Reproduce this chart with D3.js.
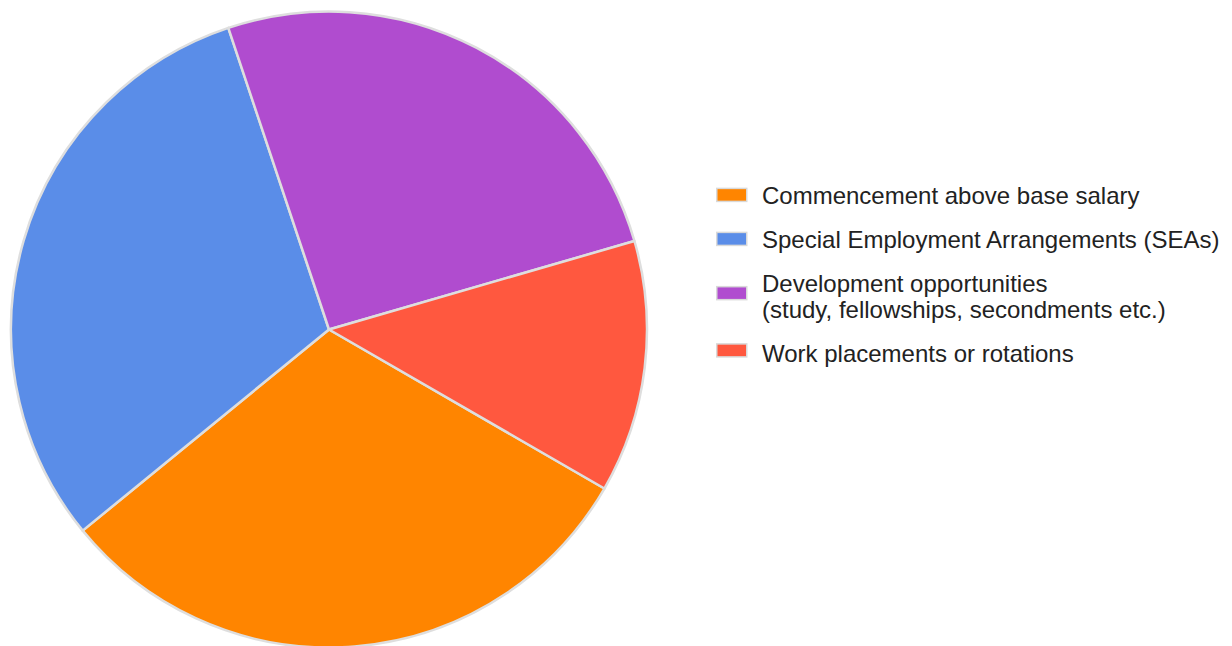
<!DOCTYPE html>
<html>
<head>
<meta charset="utf-8">
<script src="https://cdn.jsdelivr.net/npm/d3@7"></script>
<style>
  html, body { margin: 0; padding: 0; background: #fff; }
  svg { display: block; }
  text { font-family: Arial, "Liberation Sans", sans-serif; fill: #222; }
</style>
</head>
<body>
<svg id="chart" width="1232" height="646"></svg>
<script>
// Categories (legend order) and counts
const categories = [
  "Commencement above base salary",
  "Special Employment Arrangements (SEAs)",
  "Development opportunities\n(study, fellowships, secondments etc.)",
  "Work placements or rotations"
];
const values = [12, 12, 10, 5];
const colors = ["#ff8500", "#5a8de8", "#b04ccf", "#ff583f"];

const svg = d3.select("#chart");

// ---- Pie ----
const cx = 329, cy = 329.5, radius = 318;
const startDeg = 120;

const pie = d3.pie()
  .sort(null)
  .value(d => d.value)
  .startAngle(startDeg * Math.PI / 180)
  .endAngle(startDeg * Math.PI / 180 + 2 * Math.PI);

const arc = d3.arc().innerRadius(0).outerRadius(radius);

const data = categories.map((c, i) => ({ label: c, value: values[i], color: colors[i] }));

svg.append("g")
  .attr("transform", `translate(${cx},${cy})`)
  .selectAll("path")
  .data(pie(data))
  .join("path")
  .attr("d", arc)
  .attr("fill", d => d.data.color)
  .attr("stroke", "#dedede")
  .attr("stroke-width", 2.5)
  .attr("stroke-linejoin", "round");

// ---- Legend ----
const legendX = 716, textX = 762;
const fontSize = 24, lineH = 26.5, entryGap = 44;
let baseline = 203.5;

const legend = svg.append("g");
data.forEach((d, i) => {
  const lines = d.label.split("\n");
  const first = baseline;
  const last = baseline + (lines.length - 1) * lineH;
  const capTop = first - fontSize * 0.716;
  const mid = (capTop + last) / 2 - (lines.length > 1 ? 3 : 0) - (i === data.length - 1 ? 3 : 0);

  legend.append("rect")
    .attr("x", legendX + 0.75)
    .attr("y", mid - 6.5)
    .attr("width", 30)
    .attr("height", 13)
    .attr("fill", d.color)
    .attr("stroke", "#d9d9d9")
    .attr("stroke-width", 1.5);

  const t = legend.append("text")
    .attr("x", textX)
    .attr("y", first)
    .style("font-size", fontSize + "px");
  lines.forEach((ln, j) => {
    t.append("tspan")
      .attr("x", textX)
      .attr("y", first + j * lineH)
      .text(ln);
  });

  baseline = last + entryGap;
});
</script>
</body>
</html>
